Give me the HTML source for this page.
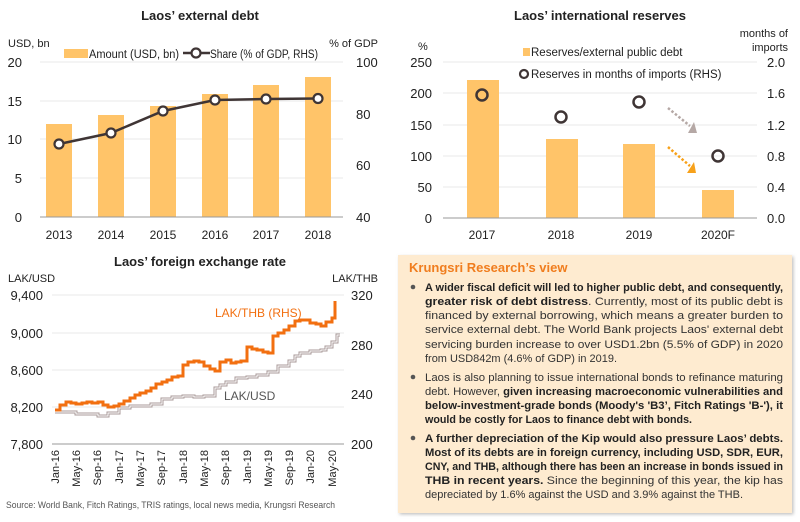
<!DOCTYPE html>
<html><head><meta charset="utf-8"><style>
html,body{margin:0;padding:0;background:#fff;width:800px;height:522px;overflow:hidden}
svg{display:block;font-family:"Liberation Sans",sans-serif}
</style></head><body>
<svg width="800" height="522" viewBox="0 0 800 522" xmlns="http://www.w3.org/2000/svg">
<defs><filter id="sh" x="-5%" y="-5%" width="110%" height="110%"><feDropShadow dx="1.5" dy="1.5" stdDeviation="1.5" flood-color="#999" flood-opacity="0.6"/></filter></defs>

<!-- Chart 1 -->
<text x="200" y="20" text-anchor="middle" font-size="13" font-weight="bold" fill="#222">Laos’ external debt</text>
<text x="8" y="47" font-size="11" fill="#222">USD, bn</text>
<text x="378" y="47" font-size="11" fill="#222" text-anchor="end">% of GDP</text>
<g stroke="#e8e8e8" stroke-width="1"><line x1="40" x2="343" y1="62" y2="62"/><line x1="40" x2="343" y1="101" y2="101"/><line x1="40" x2="343" y1="139" y2="139"/><line x1="40" x2="343" y1="178" y2="178"/></g>
<g fill="#ffc469"><rect x="46" y="124" width="26" height="93"/><rect x="98" y="115" width="26" height="102"/><rect x="150" y="106" width="26" height="111"/><rect x="202" y="94" width="26" height="123"/><rect x="253" y="85" width="26" height="132"/><rect x="305" y="77" width="26" height="140"/></g>
<line x1="40" x2="343" y1="217" y2="217" stroke="#999"/>
<polyline points="59,144 111,133 163,111 215,100 266,99 318,98.5" fill="none" stroke="#3f3535" stroke-width="2.5"/>
<g fill="#fff" stroke="#3f3535" stroke-width="2.2"><circle cx="59" cy="144" r="4.5"/><circle cx="111" cy="133" r="4.5"/><circle cx="163" cy="111" r="4.5"/><circle cx="215" cy="100" r="4.5"/><circle cx="266" cy="99" r="4.5"/><circle cx="318" cy="98.5" r="4.5"/></g>
<g font-size="13" fill="#222" text-anchor="end"><text x="22" y="67">20</text><text x="22" y="106">15</text><text x="22" y="144">10</text><text x="22" y="183">5</text><text x="22" y="222">0</text></g>
<g font-size="13" fill="#222"><text x="356" y="67">100</text><text x="356" y="119">80</text><text x="356" y="170">60</text><text x="356" y="222">40</text></g>
<g font-size="12" fill="#222" text-anchor="middle"><text x="59" y="239">2013</text><text x="111" y="239">2014</text><text x="163" y="239">2015</text><text x="215" y="239">2016</text><text x="266" y="239">2017</text><text x="318" y="239">2018</text></g>
<rect x="64" y="49" width="24" height="9" fill="#ffc469"/>
<text x="89" y="58" font-size="11.5" fill="#222" textLength="90" lengthAdjust="spacingAndGlyphs">Amount (USD, bn)</text>
<line x1="183" x2="210" y1="53" y2="53" stroke="#3f3535" stroke-width="2.5"/>
<circle cx="196" cy="53" r="4.5" fill="#fff" stroke="#3f3535" stroke-width="2.2"/>
<text x="210" y="58" font-size="11.5" fill="#222" textLength="108" lengthAdjust="spacingAndGlyphs">Share (% of GDP, RHS)</text>

<!-- Chart 2 -->
<text x="600" y="20" text-anchor="middle" font-size="13" font-weight="bold" fill="#222">Laos’ international reserves</text>
<text x="418" y="50" font-size="11" fill="#222">%</text>
<text x="788" y="37" font-size="11" fill="#222" text-anchor="end">months of</text>
<text x="788" y="51" font-size="11" fill="#222" text-anchor="end">imports</text>
<g stroke="#e8e8e8"><line x1="443" x2="757" y1="62" y2="62"/><line x1="443" x2="757" y1="93" y2="93"/><line x1="443" x2="757" y1="125" y2="125"/><line x1="443" x2="757" y1="156" y2="156"/><line x1="443" x2="757" y1="187" y2="187"/></g>
<g fill="#ffc469"><rect x="467" y="80" width="32" height="138"/><rect x="546" y="139" width="32" height="79"/><rect x="623" y="144" width="32" height="74"/><rect x="702" y="190" width="32" height="28"/></g>
<line x1="443" x2="757" y1="218" y2="218" stroke="#999"/>
<g fill="none" stroke="#3f3535" stroke-width="2.5"><circle cx="482" cy="95" r="5.5"/><circle cx="561" cy="117" r="5.5"/><circle cx="639" cy="102" r="5.5"/><circle cx="718" cy="156" r="5.5"/></g>
<line x1="668" y1="108" x2="690" y2="126" stroke="#b5a8a5" stroke-width="2.5" stroke-dasharray="2.5,2"/>
<polygon points="688,133 697,133 694,122" fill="#b5a8a5"/>
<line x1="668" y1="147" x2="690" y2="166" stroke="#f7a11a" stroke-width="2.5" stroke-dasharray="2.5,2"/>
<polygon points="687,173 696,173 694,162" fill="#f7a11a"/>
<g font-size="13" fill="#222" text-anchor="end"><text x="432" y="67">250</text><text x="432" y="98">200</text><text x="432" y="130">150</text><text x="432" y="161">100</text><text x="432" y="192">50</text><text x="432" y="223">0</text></g>
<g font-size="13" fill="#222"><text x="767" y="67">2.0</text><text x="767" y="98">1.6</text><text x="767" y="130">1.2</text><text x="767" y="161">0.8</text><text x="767" y="192">0.4</text><text x="767" y="223">0.0</text></g>
<g font-size="12" fill="#222" text-anchor="middle"><text x="482" y="239">2017</text><text x="561" y="239">2018</text><text x="639" y="239">2019</text><text x="718" y="239">2020F</text></g>
<rect x="523" y="48" width="7" height="8" fill="#ffc469"/>
<text x="531" y="56" font-size="11.5" fill="#222">Reserves/external public debt</text>
<circle cx="524" cy="74" r="4" fill="none" stroke="#3f3535" stroke-width="2.2"/>
<text x="531" y="78" font-size="11.5" fill="#222">Reserves in months of imports (RHS)</text>

<!-- Chart 3 -->
<text x="200" y="266" text-anchor="middle" font-size="13" font-weight="bold" fill="#222">Laos’ foreign exchange rate</text>
<text x="8" y="282" font-size="11" fill="#222">LAK/USD</text>
<text x="378" y="282" font-size="11" fill="#222" text-anchor="end">LAK/THB</text>
<g stroke="#e8e8e8"><line x1="52" x2="344" y1="295" y2="295"/><line x1="52" x2="344" y1="333" y2="333"/><line x1="52" x2="344" y1="370" y2="370"/><line x1="52" x2="344" y1="407" y2="407"/></g>
<line x1="52" x2="344" y1="444" y2="444" stroke="#999"/>
<path d="M55 412 H76 V414 H98 V416 H108 V413 H119 V408 H130 V406 H140 V406 H151 V404 H162 V399 H172 V397 H183 V396 H194 V397 H204 V396 H215 V388 H220 V385 H226 V382 H236 V378 H247 V377 H257 V375 H268 V372 H278 V366 H289 V361 H295 V356 H300 V353 H310 V351 H321 V350 H326 V347 H332 V342 H337 V335 H340" fill="none" stroke="#a89a98" stroke-width="3"/>
<path d="M55 412 H76 V414 H98 V416 H108 V413 H119 V408 H130 V406 H140 V406 H151 V404 H162 V399 H172 V397 H183 V396 H194 V397 H204 V396 H215 V388 H220 V385 H226 V382 H236 V378 H247 V377 H257 V375 H268 V372 H278 V366 H289 V361 H295 V356 H300 V353 H310 V351 H321 V350 H326 V347 H332 V342 H337 V335 H340" fill="none" stroke="#fff" stroke-width="1"/>
<path d="M55 410 H60 V405 H66 V402 H71 V403 H76 V404 H82 V403 H87 V402 H92 V403 H98 V402 H103 V405 H108 V407 H114 V406 H119 V404 H124 V401 H130 V398 H135 V395 H140 V393 H146 V391 H151 V388 H156 V384 H162 V382 H167 V380 H172 V377 H178 V376 H183 V365 H188 V362 H194 V361 H199 V362 H204 V366 H210 V369 H215 V371 H220 V362 H226 V360 H231 V363 H236 V362 H241 V361 H247 V347 H252 V349 H257 V350 H263 V352 H268 V353 H273 V336 H278 V333 H284 V330 H289 V326 H295 V321 H300 V320 H305 V320 H310 V323 H316 V324 H321 V326 H326 V322 H332 V318 H335 V301" fill="none" stroke="#f26f10" stroke-width="3"/>
<g font-size="13" fill="#222" text-anchor="end"><text x="43" y="300">9,400</text><text x="43" y="338">9,000</text><text x="43" y="375">8,600</text><text x="43" y="412">8,200</text><text x="43" y="449">7,800</text></g>
<g font-size="13" fill="#222"><text x="351" y="300">320</text><text x="351" y="350">280</text><text x="351" y="399">240</text><text x="351" y="449">200</text></g>
<text x="215" y="317" font-size="12" fill="#f26f10">LAK/THB (RHS)</text>
<text x="224" y="400" font-size="12" fill="#555">LAK/USD</text>
<g font-size="11" fill="#222" text-anchor="end">
<text transform="translate(59,450) rotate(-90)">Jan-16</text>
<text transform="translate(80,450) rotate(-90)">May-16</text>
<text transform="translate(101,450) rotate(-90)">Sep-16</text>
<text transform="translate(123,450) rotate(-90)">Jan-17</text>
<text transform="translate(144,450) rotate(-90)">May-17</text>
<text transform="translate(165,450) rotate(-90)">Sep-17</text>
<text transform="translate(187,450) rotate(-90)">Jan-18</text>
<text transform="translate(208,450) rotate(-90)">May-18</text>
<text transform="translate(229,450) rotate(-90)">Sep-18</text>
<text transform="translate(251,450) rotate(-90)">Jan-19</text>
<text transform="translate(272,450) rotate(-90)">May-19</text>
<text transform="translate(293,450) rotate(-90)">Sep-19</text>
<text transform="translate(314,450) rotate(-90)">Jan-20</text>
<text transform="translate(336,450) rotate(-90)">May-20</text>
</g>
<text x="6" y="508" font-size="9.5" fill="#555" textLength="329" lengthAdjust="spacingAndGlyphs">Source:  World Bank, Fitch Ratings, TRIS ratings, local news media, Krungsri Research</text>

<!-- Text box -->
<rect x="398" y="255" width="394" height="258" fill="#feebd0" filter="url(#sh)"/>
<text x="409" y="272" font-size="13" font-weight="bold" fill="#f07d1e">Krungsri Research’s view</text>
<g fill="#555"><circle cx="413" cy="287" r="2.3"/><circle cx="413" cy="377" r="2.3"/><circle cx="413" cy="438" r="2.3"/></g>
<g font-size="11.2" fill="#333">
<text x="425" y="291" textLength="358" lengthAdjust="spacingAndGlyphs" font-weight="bold" fill="#222">A wider fiscal deficit will led to higher public debt, and consequently,</text>
<text x="425" y="305" textLength="358" lengthAdjust="spacingAndGlyphs"><tspan font-weight="bold" fill="#222">greater risk of debt distress</tspan>. Currently, most of its public debt is</text>
<text x="425" y="319" textLength="358" lengthAdjust="spacingAndGlyphs">financed by external borrowing, which means a greater burden to</text>
<text x="425" y="333" textLength="358" lengthAdjust="spacingAndGlyphs">service external debt. The World Bank projects Laos' external debt</text>
<text x="425" y="348" textLength="358" lengthAdjust="spacingAndGlyphs">servicing burden increase to over USD1.2bn (5.5% of GDP) in 2020</text>
<text x="425" y="362" font-size="10.8" textLength="192" lengthAdjust="spacingAndGlyphs">from USD842m (4.6% of GDP) in 2019.</text>
<text x="425" y="381" textLength="358" lengthAdjust="spacingAndGlyphs">Laos is also planning to issue international bonds to refinance maturing</text>
<text x="425" y="395" textLength="358" lengthAdjust="spacingAndGlyphs">debt. However, <tspan font-weight="bold" fill="#222">given increasing macroeconomic vulnerabilities and</tspan></text>
<text x="425" y="409" textLength="358" lengthAdjust="spacingAndGlyphs" font-weight="bold" fill="#222">below-investment-grade bonds (Moody's 'B3’, Fitch Ratings 'B-'), it</text>
<text x="425" y="423" textLength="267" lengthAdjust="spacingAndGlyphs" font-weight="bold" fill="#222">would be costly for Laos to finance debt with bonds.</text>
<text x="425" y="442" textLength="358" lengthAdjust="spacingAndGlyphs" font-weight="bold" fill="#222">A further depreciation of the Kip would also pressure Laos’ debts.</text>
<text x="425" y="456" textLength="358" lengthAdjust="spacingAndGlyphs" font-weight="bold" fill="#222">Most of its debts are in foreign currency, including USD, SDR, EUR,</text>
<text x="425" y="470" textLength="358" lengthAdjust="spacingAndGlyphs" font-weight="bold" fill="#222">CNY, and THB, although there has been an increase in bonds issued in</text>
<text x="425" y="484" textLength="358" lengthAdjust="spacingAndGlyphs"><tspan font-weight="bold" fill="#222">THB in recent years.</tspan> Since the beginning of this year, the kip has</text>
<text x="425" y="498" font-size="10.8" textLength="318" lengthAdjust="spacingAndGlyphs">depreciated by 1.6% against the USD and 3.9% against the THB.</text>
</g>
</svg>
</body></html>
